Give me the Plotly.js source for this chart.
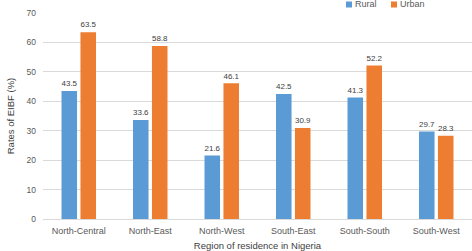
<!DOCTYPE html>
<html><head><meta charset="utf-8">
<script src="https://cdn.plot.ly/plotly-3.0.1.min.js"></script>
<style>html,body{margin:0;padding:0;background:#fff}#c{width:472px;height:251px}</style>
</head><body><div id="c"></div>
<script>
const regions = ["North-Central","North-East","North-West","South-East","South-South","South-West"];
const rural = [43.5, 33.6, 21.6, 42.5, 41.3, 29.7];
const urban = [63.5, 58.8, 46.1, 30.9, 52.2, 28.3];
const yTicks = [0,10,20,30,40,50,60,70];
const seriesNames = ["Rural","Urban"];
const seriesColors = ["#5B9BD5","#ED7D31"];

const txtFont = {family:"Liberation Sans, Arial, sans-serif", size:9, color:"#404040"};
const traces = [rural, urban].map((vals,i)=>({
  type:"bar", name:seriesNames[i], x:regions, y:vals, marker:{color:seriesColors[i]},
  text:vals.map(v=>v.toFixed(1)), textposition:"outside", textfont:txtFont, cliponaxis:false
}));

// legend: small squares + labels at the top right (paper coords; plot area 429x206 px)
const W = 429, H = 206, L = 43, T = 13;
const legX = [346, 391];
const px2x = p => (p - L) / W;
const py2y = p => 1 + (T - p) / H;
const shapes = seriesNames.map((n,i)=>({type:"rect", xref:"paper", yref:"paper",
  x0:px2x(legX[i]), x1:px2x(legX[i]+6), y0:py2y(7.5), y1:py2y(1.5),
  fillcolor:seriesColors[i], line:{width:0}}));
const annotations = seriesNames.map((n,i)=>({xref:"paper", yref:"paper",
  x:px2x(legX[i]+7), y:py2y(4.5), xanchor:"left", yanchor:"middle", showarrow:false,
  text:n, font:{size:9, color:"#595959"}}));

const layout = {
  width:472, height:251,
  margin:{l:L, r:0, t:T, b:32, autoexpand:false},
  paper_bgcolor:"#fff", plot_bgcolor:"#fff",
  font:{family:"Liberation Sans, Arial, sans-serif", size:9, color:"#595959"},
  barmode:"group", bargap:0.47, bargroupgap:0.18,
  showlegend:false,
  shapes:shapes, annotations:annotations,
  xaxis:{showgrid:false, showline:false, zeroline:false, ticks:"",
    tickfont:{size:9, color:"#595959"}, ticklabelstandoff:5,
    title:{text:"Region of residence in Nigeria", font:{size:9.5, color:"#404040"}, standoff:9}},
  yaxis:{range:[0,70], tickvals:yTicks, ticktext:yTicks.map(String), showgrid:true, gridcolor:"#d9d9d9",
    gridwidth:1, zeroline:true, zerolinecolor:"#d9d9d9", showline:false, ticks:"",
    tickfont:{size:8.5, color:"#595959"}, ticklabelstandoff:6,
    title:{text:"Rates of EIBF (%)", font:{size:9.5, color:"#404040"}, standoff:10}}
};
Plotly.newPlot("c", traces, layout, {displayModeBar:false, staticPlot:true});
</script></body></html>
